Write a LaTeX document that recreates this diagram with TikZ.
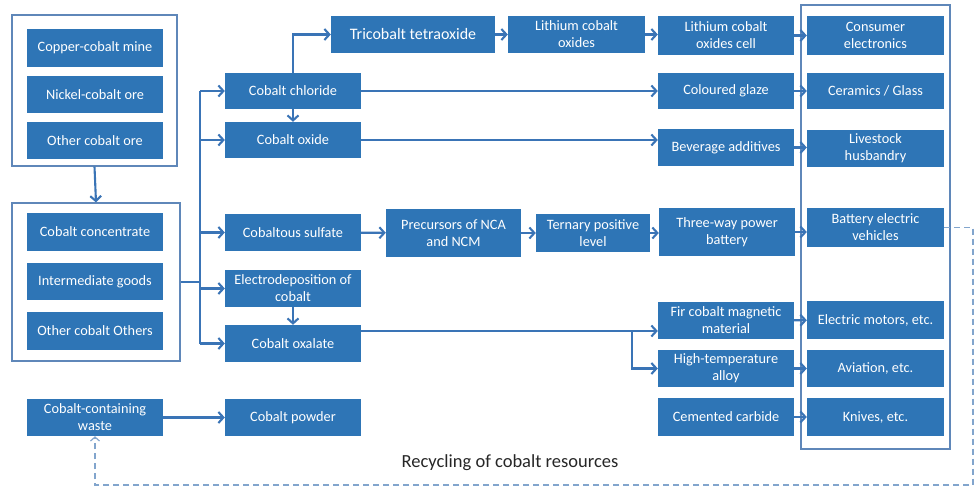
\documentclass[tikz,border=0pt]{standalone}
\usepackage{fontspec}
\setmainfont{Carlito}
\usetikzlibrary{arrows.meta}
\definecolor{boxblue}{RGB}{46,117,182}
\definecolor{lineblue}{RGB}{58,116,182}
\definecolor{frameblue}{RGB}{95,135,185}
\definecolor{dashblue}{RGB}{130,165,205}
\tikzset{
  box/.style={fill=boxblue, draw=none, text=white, align=center, inner sep=1pt,
    font=\fontsize{14.3}{17}\selectfont},
  frame/.style={draw=frameblue, line width=1.2pt, fill=none, inner sep=0pt},
  arr/.style={draw=lineblue, line width=2.1pt, -{Straight Barb[length=5pt,width=11pt,line width=2.1pt]}},
  ln/.style={draw=lineblue, line width=2.1pt},
  dsh/.style={draw=dashblue, line width=1.2pt, dash pattern=on 6pt off 4pt,
    -{Straight Barb[length=4pt,width=9pt,line width=1.2pt]}},
}
\begin{document}
\begin{tikzpicture}[x=1pt,y=-1pt]
\useasboundingbox (0,0) rectangle (976,486);
% frames
\node[frame, minimum width=165pt, minimum height=151pt] (f1) at (94.5,90.5) {};
\node[frame, minimum width=168pt, minimum height=158pt] (f2) at (96,282) {};
\node[frame, minimum width=149pt, minimum height=444pt] (f3) at (875.5,227) {};
% left column
\node[box, minimum width=136pt, minimum height=38pt] (cu) at (95,48) {Copper-cobalt mine};
\node[box, minimum width=136pt, minimum height=37pt] (ni) at (95,94.5) {Nickel-cobalt ore};
\node[box, minimum width=136pt, minimum height=37pt] (oth) at (95,140.5) {Other cobalt ore};
\node[box, minimum width=136pt, minimum height=38pt] (conc) at (95,232) {Cobalt concentrate};
\node[box, minimum width=136pt, minimum height=37pt] (inter) at (95,281.5) {Intermediate goods};
\node[box, minimum width=136pt, minimum height=38pt] (othr) at (95,331) {Other cobalt Others};
\node[box, minimum width=136pt, minimum height=37pt] (waste) at (95,417.5) {Cobalt-containing\\waste};
% middle column
\node[box, minimum width=136pt, minimum height=36pt] (chl) at (293,91) {Cobalt chloride};
\node[box, minimum width=136pt, minimum height=36pt] (oxi) at (293,140) {Cobalt oxide};
\node[box, minimum width=136pt, minimum height=37pt] (sulf) at (293,232.5) {Cobaltous sulfate};
\node[box, minimum width=136pt, minimum height=37pt] (elec) at (293,288.5) {Electrodeposition of\\cobalt};
\node[box, minimum width=136pt, minimum height=37pt] (oxa) at (293,343.5) {Cobalt oxalate};
\node[box, minimum width=136pt, minimum height=37pt] (powder) at (293,417.5) {Cobalt powder};
% top row
\node[box, minimum width=164pt, minimum height=37pt, font=\fontsize{16}{19}\selectfont] (tri) at (413,34.5) {Tricobalt tetraoxide};
\node[box, minimum width=137pt, minimum height=37pt] (lco) at (576.5,34.5) {Lithium cobalt\\oxides};
% NCA row
\node[box, minimum width=135pt, minimum height=48pt] (prec) at (453.5,233) {Precursors of NCA\\and NCM};
\node[box, minimum width=114pt, minimum height=38pt] (tern) at (593,233) {Ternary positive\\level};
% products
\node[box, minimum width=136pt, minimum height=39pt] (lcc) at (726,35.5) {Lithium cobalt\\oxides cell};
\node[box, minimum width=136pt, minimum height=36pt] (glaze) at (726,91) {Coloured glaze};
\node[box, minimum width=136pt, minimum height=37pt] (bev) at (726,147.5) {Beverage additives};
\node[box, minimum width=136pt, minimum height=48pt] (three) at (727,232) {Three-way power\\battery};
\node[box, minimum width=136pt, minimum height=37pt] (fir) at (726,320.5) {Fir cobalt magnetic\\material};
\node[box, minimum width=136pt, minimum height=37pt] (hta) at (726,368.5) {High-temperature\\alloy};
\node[box, minimum width=136pt, minimum height=38pt] (cem) at (726,417) {Cemented carbide};
% applications
\node[box, minimum width=137pt, minimum height=39pt] (cons) at (875.5,35.5) {Consumer\\electronics};
\node[box, minimum width=137pt, minimum height=36pt] (cer) at (875.5,91) {Ceramics / Glass};
\node[box, minimum width=137pt, minimum height=37pt] (live) at (875.5,148.5) {Livestock\\husbandry};
\node[box, minimum width=137pt, minimum height=38pt] (bevs) at (875.5,227.5) {Battery electric\\vehicles};
\node[box, minimum width=137pt, minimum height=38pt] (mot) at (875.5,320) {Electric motors, etc.};
\node[box, minimum width=137pt, minimum height=37pt] (avi) at (875.5,368.5) {Aviation, etc.};
\node[box, minimum width=137pt, minimum height=38pt] (kni) at (875.5,417) {Knives, etc.};
% label
\node[font=\fontsize{18.5}{22}\selectfont, text=black!85] (rec) at (510,463) {Recycling of cobalt resources};
% connectors
\draw[arr] (f1.south) -- (f2.north);
\coordinate (tr) at (200,282);
\draw[ln] (f2.east) -- (tr);
\draw[ln] (tr |- chl.west) -- (tr |- oxa.west);
\foreach \t in {chl,oxi,sulf,elec,oxa} \draw[arr] (tr |- \t.west) -- (\t.west);
\draw[arr] (chl.south) -- (oxi.north);
\draw[arr] (chl.north) |- (tri.west);
\draw[arr] (tri) -- (lco);
\draw[arr] (lco) -- (lco -| lcc.west);
\draw[arr] (lcc) -- (cons);
\draw[arr] (chl.east) -- (glaze.west);
\draw[arr] (glaze) -- (cer);
\draw[arr] (oxi.east) -- (oxi.east -| bev.west);
\draw[arr] (bev) -- (bev -| live.west);
\draw[arr] (sulf) -- (prec);
\draw[arr] (prec) -- (tern);
\draw[arr] (tern) -- (tern -| three.west);
\draw[arr] (three) -- (three -| bevs.west);
\draw[arr] (elec.south) -- (oxa.north);
\coordinate (oxo) at (361,331);
\coordinate (br) at (632,331);
\draw[arr] (oxo) -- (oxo -| fir.west);
\draw[arr] (br) |- (hta.west);
\draw[arr] (fir) -- (mot);
\draw[arr] (hta) -- (avi);
\draw[arr] (cem) -- (kni);
\draw[arr] (waste) -- (powder);
\coordinate (d1) at (973,227.5);
\coordinate (d2) at (973,485);
\draw[dsh] (bevs.east) -- (d1) -- (d2) -| (waste.south);
\end{tikzpicture}
\end{document}
